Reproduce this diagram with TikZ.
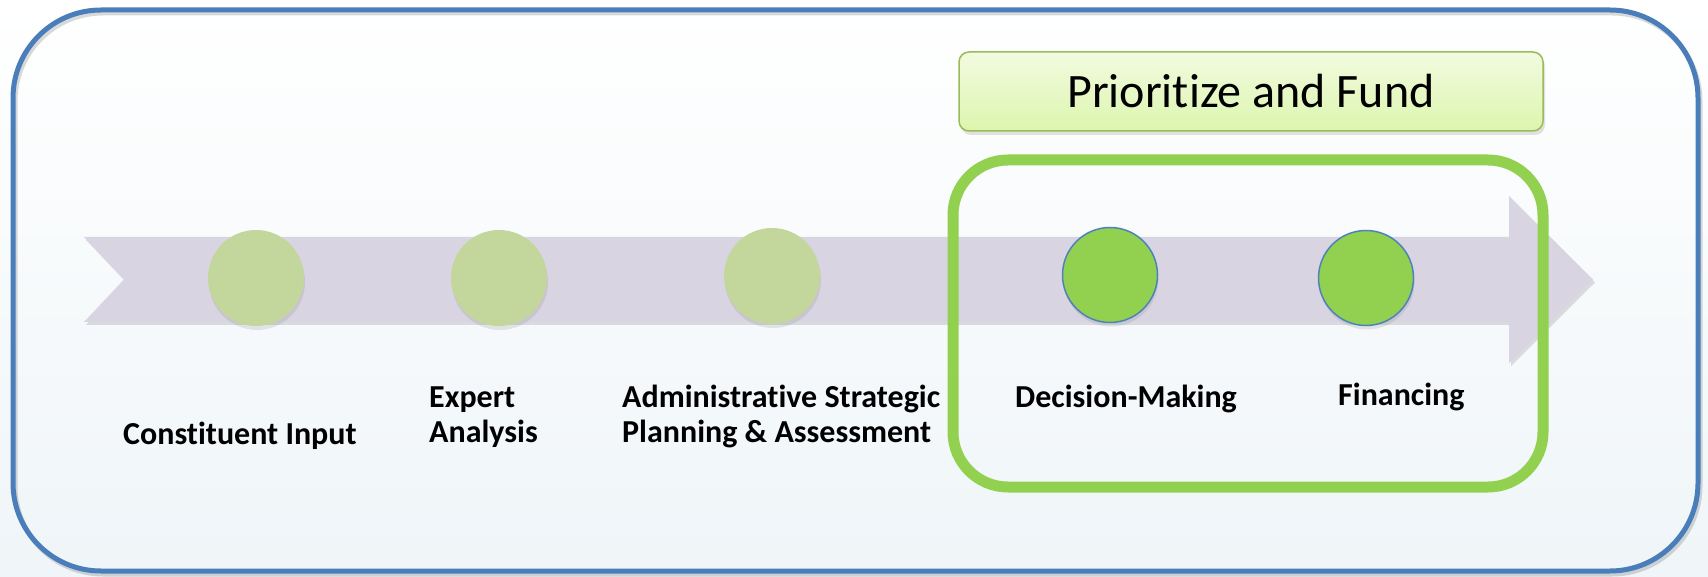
\documentclass[tikz,border=0pt]{standalone}
\usepackage{fontspec}
\setmainfont{Carlito}[Ligatures=NoCommon]
\usetikzlibrary{shadows}
\definecolor{cBlueFrame}{HTML}{4A7EBB}
\definecolor{cGreenFrame}{HTML}{92D050}
\definecolor{cArrow}{HTML}{D8D4E2}
\definecolor{cLightDot}{HTML}{C3D69B}
\definecolor{cDarkDot}{HTML}{92D050}
\definecolor{cDotLine}{HTML}{4F81BD}
\definecolor{cPfBorder}{HTML}{9BBB59}
\definecolor{cPfTop}{HTML}{F2FBE0}
\definecolor{cPfBot}{HTML}{DCF5AE}
\definecolor{cBgMid}{HTML}{F9F9FD}
\definecolor{cBgBot}{HTML}{EFF5F8}
\begin{document}
\begin{tikzpicture}[x=1pt,y=-1pt,
  dotlight/.style={circle, fill=cLightDot, minimum size=96pt, inner sep=0pt,
    drop shadow={shadow xshift=1pt, shadow yshift=-4pt, opacity=0.18}},
  dotdark/.style={circle, fill=cDarkDot, draw=cDotLine, line width=1.5pt, minimum size=95pt, inner sep=0pt,
    drop shadow={shadow xshift=1pt, shadow yshift=-4pt, opacity=0.18}},
  lbl/.style={font=\fontsize{32}{35}\selectfont\bfseries, inner sep=0pt, anchor=base west, text=black},
  pfbox/.style={rectangle, rounded corners=10pt, draw=cPfBorder, line width=1.5pt,
    top color=cPfTop, bottom color=cPfBot, minimum width=584pt, minimum height=79pt,
    font=\fontsize{48}{58}\selectfont, text=black,
    drop shadow={shadow xshift=2pt, shadow yshift=-4pt, opacity=0.22}},
  gframe/.style={rectangle, rounded corners=55pt, draw=cGreenFrame, line width=11pt,
    minimum width=590pt, minimum height=327pt, inner sep=0pt},
  bframe/.style={rectangle, rounded corners=88pt, draw=cBlueFrame, line width=5pt,
    minimum width=1685pt, minimum height=561pt, inner sep=0pt}
]
\useasboundingbox (0,0) rectangle (1708,577);
% background
\shade[top color=white, middle color=cBgMid, bottom color=cBgBot] (0,0) rectangle (1708,577);
% blue frame shadow and frame
\draw[black, opacity=0.15, line width=5pt, rounded corners=88pt] (15,13) rectangle (1700,574);
\node[bframe] (outer) at (855.5,290.5) {};
% prioritize box
\node[pfbox] (pf) at (1251,91.5) {Prioritize and Fund};
% arrow shadow and arrow
\fill[black, opacity=0.12] (86,240) -- (1511,240) -- (1511,199) -- (1595,282.5) -- (1511,366) -- (1511,325) -- (86,325) -- (126,282) -- cycle;
\fill[cArrow] (84,237) -- (1509,237) -- (1509,196) -- (1593,279.5) -- (1509,363) -- (1509,322) -- (84,322) -- (124,279.5) -- cycle;
% circles
\node[dotlight] (c1) at (256,278) {};
\node[dotlight] (c2) at (499,278) {};
\node[dotlight] (c3) at (772,276) {};
\node[dotdark] (c4) at (1110,275) {};
\node[dotdark] (c5) at (1366,278) {};
% green frame
\node[gframe] (fund) at (1248,323.5) {};
% labels
\node[lbl] (t1) at (123,444) {Constituent Input};
\node[lbl] (t2) at (429,407) {\begin{tabular}[t]{@{}l@{}}Expert\\Analysis\end{tabular}};
\node[lbl] (t3) at (622,407) {\begin{tabular}[t]{@{}l@{}}Administrative Strategic\\Planning \& Assessment\end{tabular}};
\node[lbl] (t4) at (1015,407) {Decision-Making};
\node[lbl] (t5) at (1338,405) {Financing};
\end{tikzpicture}
\end{document}
